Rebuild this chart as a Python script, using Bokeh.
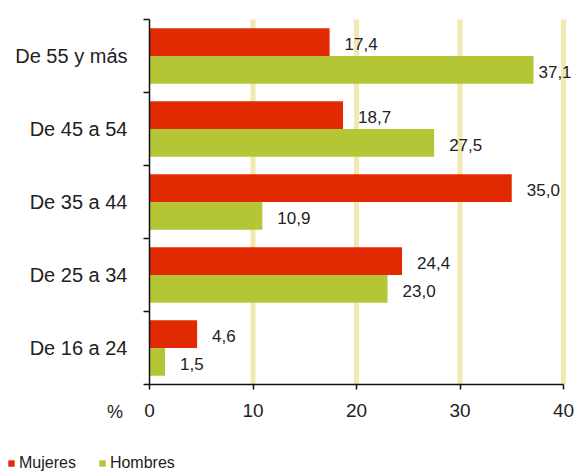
from bokeh.plotting import figure
from bokeh.models import (Range1d, FixedTicker, ColumnDataSource, LabelSet, Label,
                          Legend, LegendItem)
from bokeh.core.properties import value
from bokeh.embed import file_html
from bokeh.resources import INLINE

# ---- data ----
categories = ["De 16 a 24", "De 25 a 34", "De 35 a 44", "De 45 a 54", "De 55 y más"]
mujeres = [4.6, 24.4, 35.0, 18.7, 17.4]
hombres = [1.5, 23.0, 10.9, 27.5, 37.1]
x_ticks = [0, 10, 20, 30, 40]
series_names = ["Mujeres", "Hombres"]

RED = "#E22A02"
GREEN = "#B4C636"
FONT = "Liberation Sans"
X_END = x_ticks[-1]
N = len(categories)

# ---- layout geometry (pixels inside the figure) ----
W, H = 576, 472
PX0, PX1 = 149, 563      # pixel of x=0 and x=X_END
PY_TOP, PY_BOT = 19, 384  # pixel of y=N (top) and y=0 (bottom)
sx = (PX1 - PX0) / X_END
sy = (PY_BOT - PY_TOP) / N

p = figure(width=W, height=H, output_backend="svg", toolbar_location=None,
           x_range=Range1d(-PX0 / sx, (W - PX0) / sx),
           y_range=Range1d(-(H - PY_BOT) / sy, N + PY_TOP / sy),
           min_border=0)
p.outline_line_color = None
p.background_fill_color = "white"
p.border_fill_color = "white"
p.xgrid.visible = False
p.ygrid.visible = False

# vertical light grid lines (10..40), spanning the plot area only
p.segment(x0=x_ticks[1:], x1=x_ticks[1:], y0=[0] * len(x_ticks[1:]),
          y1=[N] * len(x_ticks[1:]), line_color="#F3E8B2", line_width=5)

centers = [i + 0.5 for i in range(N)]
bar_h = 0.38
off = 0.19


def label_offsets(vals):
    return [15 if v + 4 < X_END else 5 for v in vals]


src_m = ColumnDataSource(dict(y=[c + off for c in centers], v=mujeres,
                              lab=[f"{v:.1f}".replace(".", ",") for v in mujeres],
                              xo=label_offsets(mujeres)))
src_h = ColumnDataSource(dict(y=[c - off for c in centers], v=hombres,
                              lab=[f"{v:.1f}".replace(".", ",") for v in hombres],
                              xo=label_offsets(hombres)))

rm = p.hbar(y="y", right="v", left=0, height=bar_h, source=src_m,
            fill_color=RED, line_color=None)
rh = p.hbar(y="y", right="v", left=0, height=bar_h, source=src_h,
            fill_color=GREEN, line_color=None)

for src in (src_m, src_h):
    p.add_layout(LabelSet(x="v", y="y", text="lab", source=src, x_offset="xo",
                          y_offset=-2, text_baseline="middle", text_align="left",
                          text_font=value(FONT), text_font_size="17px",
                          text_color="#222222"))

# axes (drawn at x=0 / y=0 inside the canvas)
xa = p.xaxis[0]
xa.fixed_location = 0
xa.bounds = (0, X_END)
xa.ticker = FixedTicker(ticks=x_ticks)
xa.axis_line_color = "#111111"
xa.axis_line_width = 1.5
xa.major_tick_line_color = "#111111"
xa.major_tick_line_width = 1.5
xa.major_tick_out = 5
xa.major_tick_in = 0
xa.minor_tick_line_color = None
xa.major_label_standoff = 14
xa.major_label_text_font = FONT
xa.major_label_text_font_size = "19px"
xa.major_label_text_color = "#222222"

ya = p.yaxis[0]
ya.fixed_location = 0
ya.bounds = (0, N)
ya.ticker = FixedTicker(ticks=centers, minor_ticks=list(range(N + 1)))
ya.major_label_overrides = {c: name for c, name in zip(centers, categories)}
ya.axis_line_color = "#111111"
ya.axis_line_width = 1.5
ya.major_tick_line_color = None
ya.major_tick_out = 0
ya.major_tick_in = 0
ya.minor_tick_line_color = "#111111"
ya.minor_tick_line_width = 1.5
ya.minor_tick_out = 6
ya.minor_tick_in = 0
ya.major_label_standoff = 16
ya.major_label_text_font = FONT
ya.major_label_text_font_size = "20px"
ya.major_label_text_color = "#222222"

# "%" left of the x tick labels
p.add_layout(Label(x=-3.33, y=-0.37, text="%", text_align="center",
                   text_baseline="middle", text_font=FONT, text_font_size="18px",
                   text_color="#222222"))

legend = Legend(items=[LegendItem(label=series_names[0], renderers=[rm]),
                       LegendItem(label=series_names[1], renderers=[rh])],
                location=(7, 0), orientation="horizontal",
                border_line_color=None, background_fill_alpha=0,
                padding=0, margin=0, spacing=22, label_standoff=4,
                glyph_width=8, glyph_height=8, label_height=12,
                label_text_font=FONT, label_text_font_size="16px",
                label_text_color="#222222")
p.add_layout(legend, "center")

open("out.html", "w").write(file_html(p, INLINE))
